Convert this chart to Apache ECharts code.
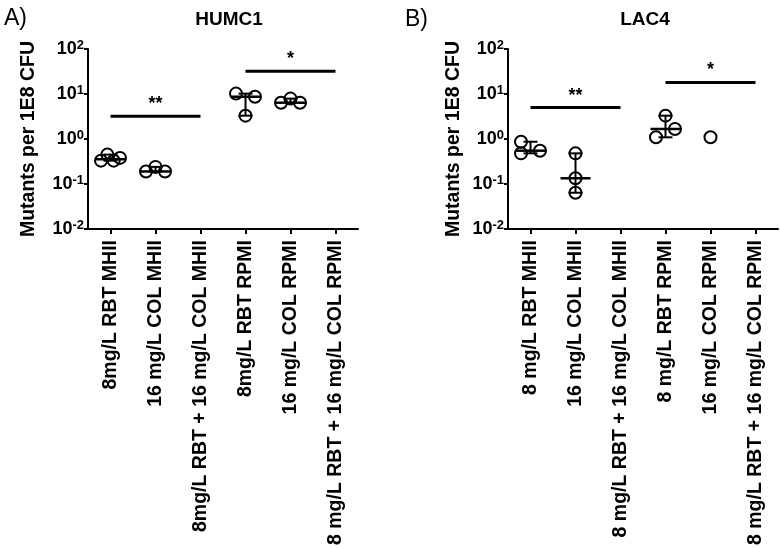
<!DOCTYPE html>
<html>
<head>
<meta charset="utf-8">
<script src="https://cdn.jsdelivr.net/npm/echarts@6/dist/echarts.min.js"></script>
<style>
html,body{margin:0;padding:0;background:#fff;}
#chart{width:780px;height:549px;}
</style>
</head>
<body>
<div id="chart"></div>
<script>
// ---------- data ----------
const categoriesA = ['8mg/L RBT MHII', '16 mg/L COL MHII', '8mg/L RBT + 16 mg/L COL MHII', '8mg/L RBT RPMI', '16 mg/L COL RPMI', '8 mg/L RBT + 16 mg/L COL RPMI'];
const categoriesB = ['8 mg/L RBT MHII', '16 mg/L COL MHII', '8 mg/L RBT + 16 mg/L COL MHII', '8 mg/L RBT RPMI', '16 mg/L COL RPMI', '8 mg/L RBT + 16 mg/L COL RPMI'];
const valuesA = [[0.33, 0.45, 0.33, 0.38], [0.19, 0.24, 0.19], [], [10.2, 8.7, 3.3], [6.4, 7.9, 6.4], []];
const valuesB = [[0.87, 0.48, 0.55], [0.48, 0.134, 0.064], [], [3.3, 1.09, 1.67], [1.09], []];
const sigA = [[0, 2, 3.2], [3, 5, 32]];
const sigB = [[0, 2, 5.0], [3, 5, 18]];
const sigTextA = ['**', '*'];
const sigTextB = ['**', '*'];
const titles = ['HUMC1', 'LAC4'];
const panelLabels = ['A)', 'B)'];
const yName = 'Mutants per 1E8 CFU';

// ---------- helpers ----------
const FONT = 'Liberation Sans, Arial, sans-serif';
const OVERLAP = 0.25;   // decades
const SPREAD = 9.5;     // px half-width of a row of overlapping points

function offsetsFor(arr) {
  const n = arr.length;
  const logs = arr.map(v => Math.log10(v));
  const order = logs.map((l, i) => i).sort((a, b) => logs[a] - logs[b]);
  const clusters = [];
  let cur = [order[0]];
  for (let k = 1; k < n; k++) {
    if (logs[order[k]] - logs[order[k - 1]] < OVERLAP) cur.push(order[k]);
    else { clusters.push(cur); cur = [order[k]]; }
  }
  if (n) clusters.push(cur);
  const off = new Array(n).fill(0);
  clusters.forEach(cl => {
    if (cl.length < 2) return;
    const members = cl.slice().sort((a, b) => a - b);
    const cols = [];
    const colOf = {};
    members.forEach(i => {
      let c = 0;
      while (c < cols.length && cols[c].some(j => Math.abs(logs[i] - logs[j]) < OVERLAP)) c++;
      if (c === cols.length) cols.push([]);
      cols[c].push(i);
      colOf[i] = c;
    });
    const m = cols.length;
    members.forEach(i => {
      off[i] = m < 2 ? 0 : -SPREAD + (2 * SPREAD) * colOf[i] / (m - 1);
    });
  });
  return off;
}

function scatterSeries(values, idx) {
  const data = [];
  values.forEach((arr, i) => {
    const off = offsetsFor(arr);
    arr.forEach((v, k) => data.push({ value: [i, v], symbolOffset: [off[k], 0] }));
  });
  return {
    type: 'scatter', xAxisIndex: idx, yAxisIndex: idx, data,
    symbol: 'circle', symbolSize: 12, z: 3,
    itemStyle: { color: 'rgba(0,0,0,0)', borderColor: '#000', borderWidth: 2, opacity: 1 },
    emphasis: { disabled: true }
  };
}

function errorSeries(values, idx) {
  const data = [];
  values.forEach((arr, i) => {
    if (arr.length < 2) return;
    const s = arr.slice().sort((a, b) => a - b);
    const n = s.length;
    const med = n % 2 ? s[(n - 1) / 2] : (s[n / 2 - 1] + s[n / 2]) / 2;
    data.push([i, med, s[0], s[n - 1]]);
  });
  return {
    type: 'custom', xAxisIndex: idx, yAxisIndex: idx, data, z: 5,
    encode: { x: 0, y: 1 },
    renderItem: (params, api) => {
      const x = api.value(0);
      const pm = api.coord([x, api.value(1)]);
      const p0 = api.coord([x, api.value(2)]);
      const p1 = api.coord([x, api.value(3)]);
      const cx = pm[0];
      const st = { stroke: '#000', lineWidth: 2 };
      return {
        type: 'group', children: [
          { type: 'line', shape: { x1: cx, y1: p0[1], x2: cx, y2: p1[1] }, style: st },
          { type: 'line', shape: { x1: cx - 7, y1: p0[1], x2: cx + 7, y2: p0[1] }, style: st },
          { type: 'line', shape: { x1: cx - 7, y1: p1[1], x2: cx + 7, y2: p1[1] }, style: st },
          { type: 'line', shape: { x1: cx - 15, y1: pm[1], x2: cx + 15, y2: pm[1] }, style: { stroke: '#000', lineWidth: 2.5 } }
        ]
      };
    }
  };
}

function sigSeries(sig, texts, idx) {
  return {
    type: 'custom', xAxisIndex: idx, yAxisIndex: idx, data: sig, z: 6,
    encode: { x: 0, y: 2 },
    renderItem: (params, api) => {
      const y = api.value(2);
      const a = api.coord([api.value(0), y]);
      const b = api.coord([api.value(1), y]);
      return {
        type: 'group', children: [
          { type: 'line', shape: { x1: a[0], y1: a[1], x2: b[0], y2: b[1] }, style: { stroke: '#000', lineWidth: 3 } },
          { type: 'text', style: { text: texts[params.dataIndex], x: (a[0] + b[0]) / 2, y: a[1] - 3,
            align: 'center', verticalAlign: 'bottom', fill: '#000',
            font: 'bold 18px ' + FONT } }
        ]
      };
    }
  };
}

function xAxisFor(cats, idx) {
  return {
    type: 'category', gridIndex: idx, data: cats, boundaryGap: true,
    axisLine: { show: true, lineStyle: { color: '#000', width: 2 } },
    axisTick: { show: true, alignWithLabel: true, length: 5, lineStyle: { color: '#000', width: 2 } },
    axisLabel: { interval: 0, rotate: 90, margin: 11, color: '#000', fontSize: 19.5, fontWeight: 'bold', fontFamily: FONT },
    splitLine: { show: false }
  };
}

function yAxisFor(idx, gap) {
  return {
    type: 'log', logBase: 10, gridIndex: idx, min: 0.01, max: 100,
    name: yName, nameLocation: 'middle', nameRotate: 90, nameGap: gap,
    nameTextStyle: { color: '#000', fontSize: 19.5, fontWeight: 'bold', fontFamily: FONT },
    axisLine: { show: true, lineStyle: { color: '#000', width: 2 } },
    axisTick: { show: true, length: 4, lineStyle: { color: '#000', width: 2 } },
    minorTick: { show: false },
    splitLine: { show: false },
    axisLabel: {
      margin: 4,
      formatter: v => '{a|10}{b|' + Math.round(Math.log10(v)) + '}',
      rich: {
        a: { fontSize: 18, fontWeight: 'bold', fontFamily: FONT, color: '#000', lineHeight: 20 },
        b: { fontSize: 13, fontWeight: 'bold', fontFamily: FONT, color: '#000', lineHeight: 13, verticalAlign: 'top' }
      }
    }
  };
}

const chart = echarts.init(document.getElementById('chart'), null, { renderer: 'canvas' });
chart.setOption({
  backgroundColor: '#fff',
  animation: false,
  title: [
    { text: panelLabels[0], left: -1, top: 2, textStyle: { fontSize: 23, fontWeight: 'normal', color: '#000', fontFamily: FONT } },
    { text: titles[0], left: 224, top: 5, textAlign: 'center', textStyle: { fontSize: 19, fontWeight: 'bold', color: '#000', fontFamily: FONT } },
    { text: panelLabels[1], left: 400, top: 3, textStyle: { fontSize: 23, fontWeight: 'normal', color: '#000', fontFamily: FONT } },
    { text: titles[1], left: 640, top: 5, textAlign: 'center', textStyle: { fontSize: 19, fontWeight: 'bold', color: '#000', fontFamily: FONT } }
  ],
  grid: [
    { left: 88, top: 49, width: 270, height: 180, containLabel: false, outerBoundsMode: 'none' },
    { left: 508, top: 49, width: 270, height: 180, containLabel: false, outerBoundsMode: 'none' }
  ],
  xAxis: [xAxisFor(categoriesA, 0), xAxisFor(categoriesB, 1)],
  yAxis: [yAxisFor(0, 49), yAxisFor(1, 44)],
  series: [
    scatterSeries(valuesA, 0), errorSeries(valuesA, 0), sigSeries(sigA, sigTextA, 0),
    scatterSeries(valuesB, 1), errorSeries(valuesB, 1), sigSeries(sigB, sigTextB, 1)
  ]
});
</script>
</body>
</html>
